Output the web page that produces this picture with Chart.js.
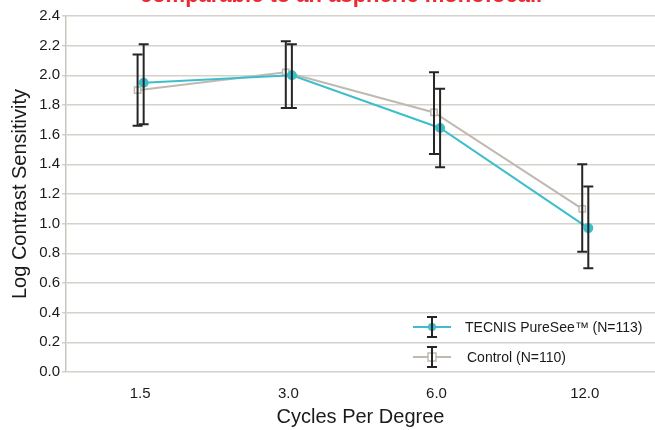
<!DOCTYPE html>
<html>
<head>
<meta charset="utf-8">
<script src="https://cdn.jsdelivr.net/npm/chart.js@4/dist/chart.umd.min.js"></script>
<style>
  body { margin: 0; background: #fff; overflow: hidden; }
  #wrap { position: relative; width: 655px; height: 430px; overflow: hidden; }
  #titulo { position: absolute; left: 0; width: 682px; top: -16px; text-align: center;
            font: bold 22px "Liberation Sans", Arial, sans-serif; line-height: 22px; color: #EE2A31; }
</style>
</head>
<body>
<div id="wrap">
  <canvas id="grafico" width="655" height="430"></canvas>
  <div id="titulo">comparable to an aspheric monofocal.</div>
</div>
<script>
// datos
const categorias = ['1.5', '3.0', '6.0', '12.0'];
const tecnis = [1.95, 2.00, 1.645, 0.97];
const tecnisBajo = [1.67, 1.78, 1.38, 0.70];
const tecnisAlto = [2.21, 2.21, 1.91, 1.25];
const control = [1.90, 2.02, 1.75, 1.10];
const controlBajo = [1.66, 1.78, 1.47, 0.81];
const controlAlto = [2.14, 2.23, 2.02, 1.40];
const ticksY = [0, 0.2, 0.4, 0.6, 0.8, 1.0, 1.2, 1.4, 1.6, 1.8, 2.0, 2.2, 2.4];

const fuente = '"Liberation Sans", Arial, sans-serif';
const colorTecnis = '#3DBFCB';
const colorControl = '#BFB9B2';

// barras de error dibujadas con las escalas de Chart.js
const barrasError = {
  id: 'barrasError',
  afterDatasetsDraw(chart) {
    const ctx = chart.ctx;
    const y = chart.scales.y;
    chart.data.datasets.forEach((ds, i) => {
      const meta = chart.getDatasetMeta(i);
      ctx.save();
      ctx.strokeStyle = '#262626';
      ctx.lineWidth = 2;
      meta.data.forEach((p, j) => {
        const y1 = y.getPixelForValue(ds.bajo[j]);
        const y2 = y.getPixelForValue(ds.alto[j]);
        ctx.beginPath();
        ctx.moveTo(p.x, y1); ctx.lineTo(p.x, y2);
        ctx.moveTo(p.x - 5, y1); ctx.lineTo(p.x + 5, y1);
        ctx.moveTo(p.x - 5, y2); ctx.lineTo(p.x + 5, y2);
        ctx.stroke();
      });
      ctx.restore();
    });
  }
};

// leyenda propia con el icono de barra de error
const leyenda = {
  id: 'leyenda',
  afterDraw(chart) {
    const ctx = chart.ctx;
    const items = [
      { texto: 'TECNIS PureSee\u2122 (N=113)', color: colorTecnis, y: 327, x: 413, tx: 465, circulo: true },
      { texto: 'Control (N=110)', color: colorControl, y: 357, x: 413, tx: 467, circulo: false }
    ];
    ctx.save();
    items.forEach(it => {
      ctx.strokeStyle = it.color;
      ctx.lineWidth = 2;
      ctx.beginPath(); ctx.moveTo(it.x, it.y); ctx.lineTo(it.x + 38, it.y); ctx.stroke();
      const cx = it.x + 19;
      if (it.circulo) {
        ctx.fillStyle = it.color;
        ctx.beginPath(); ctx.arc(cx, it.y, 4, 0, Math.PI * 2); ctx.fill();
      } else {
        ctx.fillStyle = '#fff';
        ctx.lineWidth = 1.5;
        ctx.fillRect(cx - 4, it.y - 4, 8, 8);
        ctx.strokeRect(cx - 4, it.y - 4, 8, 8);
      }
      ctx.strokeStyle = '#262626';
      ctx.lineWidth = 2;
      ctx.beginPath();
      ctx.moveTo(cx, it.y - 10); ctx.lineTo(cx, it.y + 10);
      ctx.moveTo(cx - 5, it.y - 10); ctx.lineTo(cx + 5, it.y - 10);
      ctx.moveTo(cx - 5, it.y + 10); ctx.lineTo(cx + 5, it.y + 10);
      ctx.stroke();
      ctx.fillStyle = '#1a1a1a';
      ctx.font = '14px ' + fuente;
      ctx.textBaseline = 'middle';
      ctx.textAlign = 'left';
      ctx.fillText(it.texto, it.tx, it.y + 1);
    });
    ctx.restore();
  }
};

document.addEventListener('DOMContentLoaded', () => {
  new Chart(document.getElementById('grafico'), {
    type: 'line',
    data: {
      datasets: [
        {
          label: 'TECNIS PureSee\u2122 (N=113)',
          data: tecnis.map((v, i) => ({ x: i + 0.024, y: v })),
          bajo: tecnisBajo, alto: tecnisAlto,
          borderColor: colorTecnis, backgroundColor: colorTecnis,
          borderWidth: 2, pointRadius: 4, pointStyle: 'circle'
        },
        {
          label: 'Control (N=110)',
          data: control.map((v, i) => ({ x: i - 0.017, y: v })),
          bajo: controlBajo, alto: controlAlto,
          borderColor: colorControl, backgroundColor: '#fff',
          pointBorderColor: colorControl, pointBorderWidth: 1.5,
          borderWidth: 2, pointRadius: 4.5, pointStyle: 'rect'
        }
      ]
    },
    options: {
      responsive: false,
      animation: false,
      layout: { autoPadding: false, padding: { top: 16, right: 0, left: 0, bottom: 0 } },
      plugins: { legend: { display: false }, tooltip: { enabled: false } },
      scales: {
        x: {
          type: 'linear',
          min: -0.5,
          max: 3.474,
          afterFit: s => { s.height = 58; },
          afterBuildTicks: s => { s.ticks = categorias.map((c, i) => ({ value: i })); },
          grid: { display: false, drawTicks: false },
          border: { display: false },
          ticks: {
            padding: 13,
            color: '#1a1a1a',
            font: { family: fuente, size: 15 },
            callback: v => categorias[v]
          },
          title: {
            display: true, text: 'Cycles Per Degree', color: '#1a1a1a',
            font: { family: fuente, size: 20 }, padding: { top: 0, bottom: 1 }
          }
        },
        y: {
          min: 0,
          max: 2.4,
          afterFit: s => { s.width = 66; },
          afterBuildTicks: s => { s.ticks = ticksY.map(v => ({ value: v })); },
          grid: { color: '#D5D1CB', lineWidth: 1.5, tickLength: 4 },
          border: { color: '#C9C5BF', width: 1.5 },
          ticks: {
            padding: 2,
            color: '#1a1a1a',
            font: { family: fuente, size: 15 },
            callback: v => v.toFixed(1)
          },
          title: {
            display: true, text: 'Log Contrast Sensitivity', color: '#1a1a1a',
            font: { family: fuente, size: 20 }, padding: { top: 8, bottom: 0 }
          }
        }
      }
    },
    plugins: [barrasError, leyenda]
  });
});
</script>
</body>
</html>
